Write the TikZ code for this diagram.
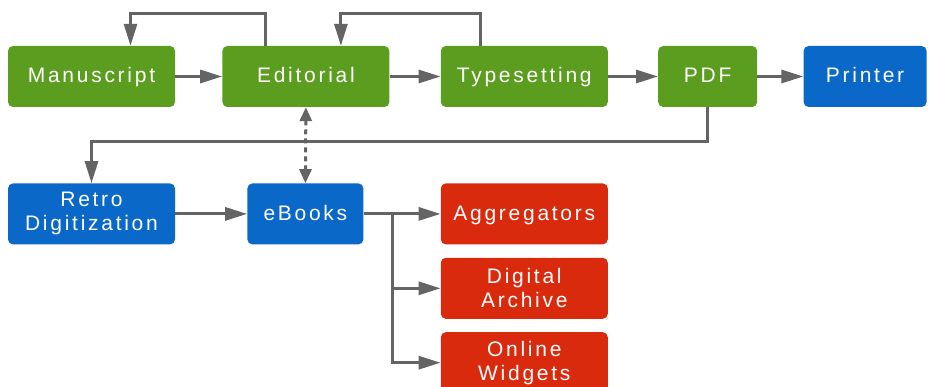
\documentclass[tikz,border=0pt]{standalone}
\usepackage{fontspec}
\setmainfont{Liberation Sans}
\newfontfamily\boxfont[LetterSpace=13]{Liberation Sans}
\usetikzlibrary{positioning, arrows.meta}
\definecolor{stagegreen}{RGB}{91,158,31}
\definecolor{outblue}{RGB}{10,104,200}
\definecolor{chanred}{RGB}{218,42,14}
\definecolor{linegray}{RGB}{100,100,100}
\tikzset{
    stepnode/.style  = {rounded corners=5pt, align=center, text=white,
                        font=\boxfont\fontsize{21}{24}\selectfont,
                        minimum height=61pt, minimum width=167pt, inner sep=2pt},
    oneline/.style   = {text height=16pt, text depth=3pt},
    greennode/.style = {stepnode, oneline, fill=stagegreen},
    bluenode/.style  = {stepnode, fill=outblue},
    rednode/.style   = {stepnode, fill=chanred},
    flow/.style      = {-{Triangle[length=22pt, width=13pt]}, line width=3pt, linegray},
    twoway/.style    = {{Triangle[length=14pt, width=12pt]}-{Triangle[length=14pt, width=12pt]},
                        line width=3pt, linegray, dash pattern=on 5pt off 4pt},
}
\begin{document}
\begin{tikzpicture}[x=1pt, y=1pt]
\useasboundingbox (0,0) rectangle (929,-387);

% print chain
\node[greennode] (manu) at (91.5,-76.5) {Manuscript};
\node[greennode, right=47pt of manu] (edit) {Editorial};
\node[greennode, right=51pt of edit] (type) {Typesetting};
\node[greennode, right=50pt of type, minimum width=99pt] (pdf) {PDF};
\node[bluenode, oneline, right=46pt of pdf, minimum width=123pt] (printer) {Printer};

% digital chain
\node[bluenode, below=76pt of manu] (retro) {Retro\\Digitization};
\node[bluenode, oneline, right=72pt of retro, minimum width=116pt] (ebooks) {eBooks};
\node[rednode, oneline, right=77pt of ebooks] (aggr) {Aggregators};
\node[rednode, below=13pt of aggr] (arch) {Digital\\Archive};
\node[rednode, below=13pt of arch] (widg) {Online\\Widgets};

\draw[flow] (manu) -- (edit);
\draw[flow] (edit) -- (type);
\draw[flow] (type) -- (pdf);
\draw[flow] (pdf) -- (printer);

% loops back
\draw[flow] ([xshift=-40pt]edit.north) -- ++(0,32) -| ([xshift=39pt]manu.north);
\draw[flow] ([xshift=-44pt]type.north) -- ++(0,32) -| ([xshift=35pt]edit.north);

\draw[flow] (pdf.south) -- ++(0,-34) -| (retro.north);
\draw[twoway] (edit.south) -- (ebooks.north);

\draw[flow] (retro) -- (ebooks);
\draw[flow] (ebooks) -- (aggr);
\coordinate (split) at ([xshift=29pt]ebooks.east);
\draw[flow] (split) |- (arch);
\draw[flow] (split) |- (widg);

\end{tikzpicture}
\end{document}
